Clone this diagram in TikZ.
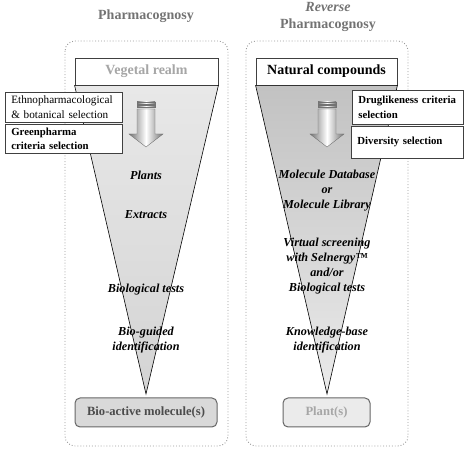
\documentclass[tikz,border=0pt]{standalone}
\usepackage{fontspec}
\setmainfont{Liberation Serif}
\usepackage{xcolor}
\usetikzlibrary{positioning,calc,shapes}

\tikzset{
  realmframe/.style={draw=black!40, dotted, line width=0.9pt, rounded corners=10pt},
  titletxt/.style={text=black!55, align=center, font=\fontsize{14}{17}\selectfont\bfseries},
  headbox/.style={draw=black!75, fill=white, line width=0.8pt, minimum height=27pt, inner sep=0pt, font=\fontsize{14}{16}\selectfont\bfseries},
  endbox/.style={draw=black!60, rounded corners=5pt, line width=1pt, minimum height=29pt, inner sep=0pt, font=\fontsize{12.6}{15}\selectfont\bfseries},
  notebox/.style={draw=black!75, fill=white, line width=0.6pt, anchor=north west, align=left, inner xsep=6pt, inner ysep=0pt, font=\fontsize{10.8}{14.5}\selectfont\bfseries},
  funneltxt/.style={align=center, inner sep=0pt, font=\fontsize{12.2}{15}\selectfont\bfseries\itshape},
  funnel/.style={draw=black, line width=0.6pt},
  downarrow/.style={draw=black!55, line width=0.4pt, left color=black!55, right color=black!55, middle color=white}
}

\begin{document}
\begin{tikzpicture}[x=1pt, y=-1pt]
    \useasboundingbox (0,0) rectangle (467,454);

    % Titles
    \node[titletxt] (lefttitle) at (146,16) {Pharmacognosy};
    \node[titletxt] (righttitle) at (328,17) {\textit{Reverse}\\Pharmacognosy};

    % Dotted frames
    \draw[realmframe] (65,41) rectangle (228,446);
    \draw[realmframe] (246,41) rectangle (408,446);

    % Top boxes
    \node[headbox, minimum width=143pt, text=black!35] (vegetal) at (146.5,71.5) {Vegetal realm};
    \node[headbox, minimum width=141pt] (natural) at (326.5,71.5) {Natural compounds};

    % Bottom boxes
    \node[endbox, minimum width=142pt, fill=black!15, text=black!70] (bioactive) at (146,412.5) {Bio-active molecule(s)};
    \node[endbox, minimum width=87pt, fill=black!8, text=black!35] (plants) at (326.5,412.5) {Plant(s)};

    % Funnels
    \coordinate (leftapex) at (146,394);
    \coordinate (rightapex) at (327,394);
    \draw[funnel, top color=black!9, bottom color=black!17] (vegetal.south west) -- (vegetal.south east) -- (leftapex) -- cycle;
    \draw[funnel, top color=black!24, bottom color=black!8] (natural.south west) -- (natural.south east) -- (rightapex) -- cycle;

    % Block arrows
    \foreach \ax in {146,327} {
        \draw[downarrow] (\ax-9,102) rectangle (\ax+9,104);
        \draw[downarrow] (\ax-9,105.5) rectangle (\ax+9,107.5);
        \draw[downarrow] (\ax-9,109) -- (\ax+9,109) -- (\ax+9,134) -- (\ax+17,134) -- (\ax,147) -- (\ax-17,134) -- (\ax-9,134) -- cycle;
    }

    % Selection boxes
    \node[notebox, minimum width=117pt, minimum height=30pt, text width=105pt, font=\fontsize{11.2}{14.5}\selectfont] (ethno) at (5,92) {Ethnopharmacological\\\& botanical selection};
    \node[notebox, minimum width=117pt, minimum height=29pt, text width=105pt] (greenpharma) at (5,124) {Greenpharma\\criteria selection};
    \node[notebox, minimum width=111pt, minimum height=34pt, text width=99pt] (druglike) at (352,90) {Druglikeness criteria\\selection};
    \node[notebox, minimum width=112pt, minimum height=32pt, text width=100pt] (diversity) at (351,126) {Diversity selection};

    % Steps in the funnels
    \node[funneltxt] (plantstep) at (146,175) {Plants};
    \node[funneltxt] (extracts) at (146,215) {Extracts};
    \node[funneltxt] (biotests) at (146,290) {Biological tests};
    \node[funneltxt] (bioguided) at (146,340.5) {Bio-guided\\identification};

    \node[funneltxt] (moldb) at (327,191) {Molecule Database\\or\\Molecule Library};
    \node[funneltxt] (screening) at (327,266) {Virtual screening\\with Selnergy™\\and/or\\Biological tests};
    \node[funneltxt] (knowledge) at (327,340.5) {Knowledge-base\\identification};
\end{tikzpicture}
\end{document}
